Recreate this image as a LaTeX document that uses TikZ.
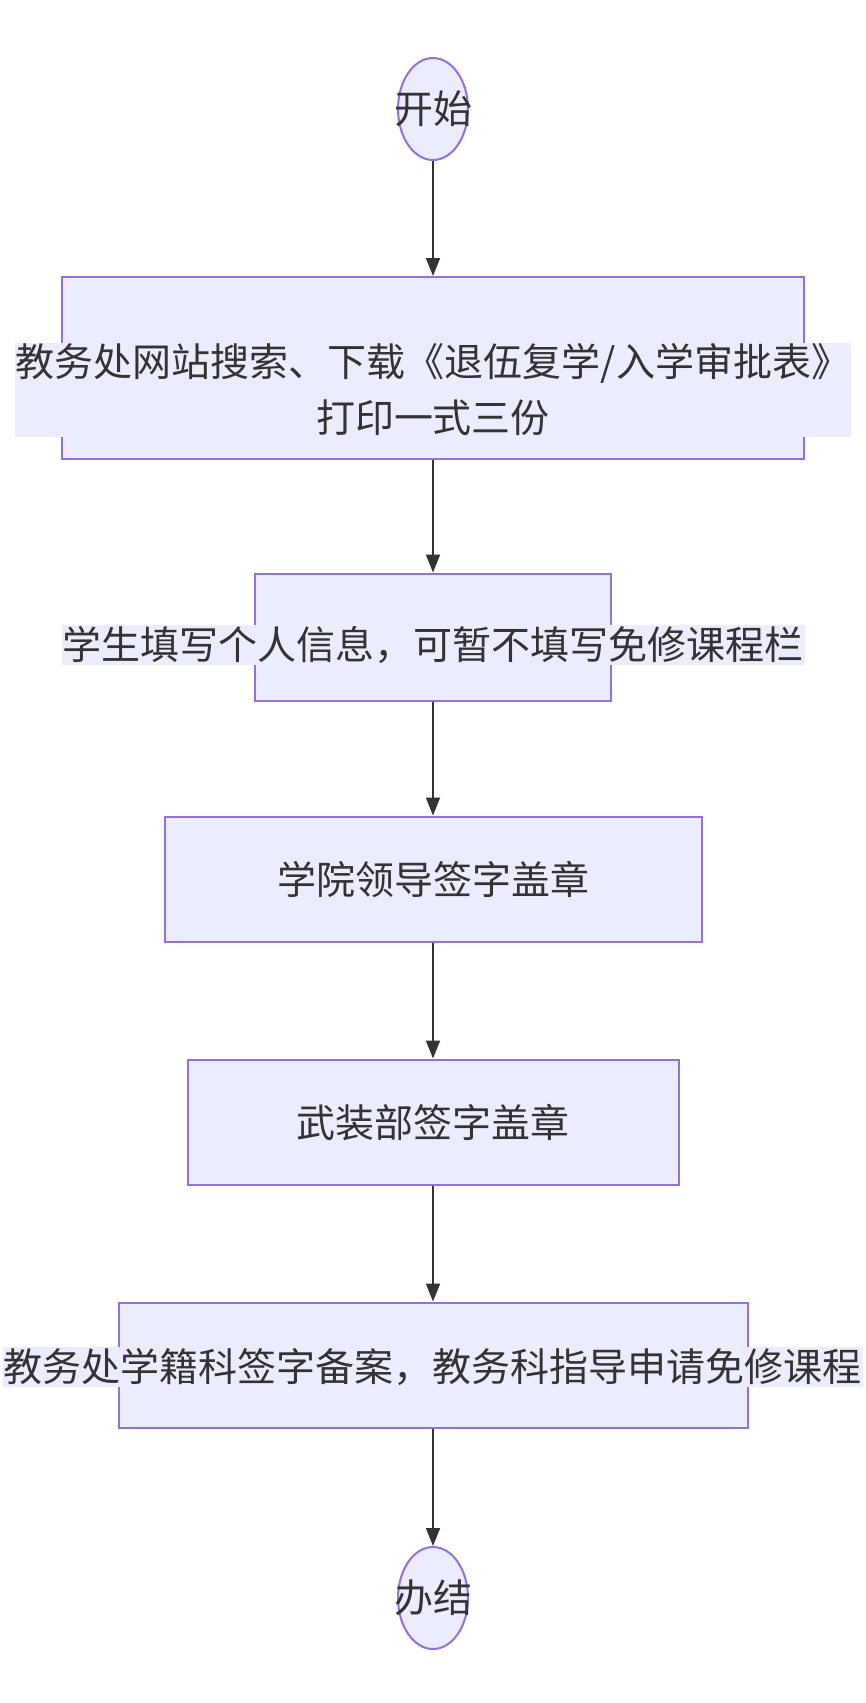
\documentclass[tikz,border=0pt]{standalone}
\usepackage{fontspec}
\setmainfont{Noto Sans CJK SC}
\definecolor{nfill}{HTML}{ECECFF}
\definecolor{nline}{HTML}{9370DB}
\definecolor{arr}{HTML}{333333}
\usetikzlibrary{arrows.meta,shapes.geometric}
\begin{document}
\begin{tikzpicture}[x=1pt,y=-1pt,
  box/.style={draw=nline,fill=nfill,line width=2pt,rectangle},
  term/.style={draw=nline,fill=nfill,line width=2pt,ellipse,minimum width=70pt,minimum height=102pt,inner sep=0pt},
  lbl/.style={font=\fontsize{39}{56}\selectfont,text=arr,fill=nfill,inner sep=1pt,align=center},
  a/.style={draw=arr,line width=1.8pt,-{Triangle[length=18pt,width=14pt]}}]
\useasboundingbox (0,0) rectangle (865,1703);
\node[term] (s) at (433,109) {};
\node[lbl,fill=none] at (s) {开始};
\node[box,minimum width=742pt,minimum height=182pt] (b1) at (433,368) {};
\node[lbl] at (433,390) {教务处网站搜索、下载《退伍复学/入学审批表》\\打印一式三份};
\node[box,minimum width=356pt,minimum height=127pt] (b2) at (433,637) {};
\node[lbl] at (433,645) {学生填写个人信息，可暂不填写免修课程栏};
\node[box,minimum width=537pt,minimum height=125pt] (b3) at (433,879) {};
\node[lbl,fill=none] at (b3) {学院领导签字盖章};
\node[box,minimum width=491pt,minimum height=125pt] (b4) at (433,1122) {};
\node[lbl,fill=none] at (b4) {武装部签字盖章};
\node[box,minimum width=629pt,minimum height=125pt] (b5) at (433,1365) {};
\node[lbl] at (433,1367) {教务处学籍科签字备案，教务科指导申请免修课程};
\node[term] (e) at (433,1598) {};
\node[lbl,fill=none] at (e) {办结};
\draw[a] (s) -- (b1);
\draw[a] (b1) -- (b2);
\draw[a] (b2) -- (b3);
\draw[a] (b3) -- (b4);
\draw[a] (b4) -- (b5);
\draw[a] (b5) -- (e);
\end{tikzpicture}
\end{document}
